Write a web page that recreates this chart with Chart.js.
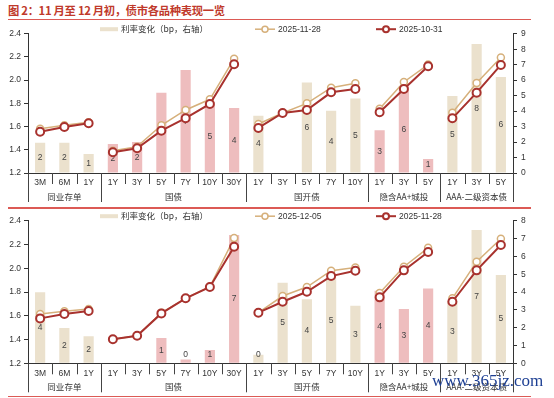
<!DOCTYPE html>
<html>
<head>
<meta charset="utf-8">
<script src="https://cdn.jsdelivr.net/npm/chart.js@4.4.1/dist/chart.umd.min.js"></script>
<style>
body{margin:0;width:554px;height:398px;background:#fff;position:relative;overflow:hidden;font-family:'Noto Sans CJK SC',sans-serif}
#title{position:absolute;left:8px;top:2px;font-size:11.3px;letter-spacing:-0.3px;font-weight:bold;color:#c0392b;white-space:nowrap}
.rule{position:absolute;left:8px;width:523px;height:1.5px;background:#dc5a55}
canvas{position:absolute;left:0}
#wm{position:absolute;left:432px;top:370px;font-family:'Liberation Serif',serif;font-size:17px;line-height:22px;color:#1d3f93;white-space:nowrap}
</style>
</head>
<body>
<div id="title">图 2：11 月至 12 月初，债市各品种表现一览</div>
<div class="rule" style="top:18.5px"></div>
<canvas id="chart--top" width="554" height="186" style="top:20px"></canvas>
<div class="rule" style="top:207px"></div>
<canvas id="chart--bottom" width="554" height="190" style="top:208px"></canvas>
<div class="rule" style="top:395.5px"></div>
<div id="wm">www.365jz.com</div>
<script>
// categories
const categories = ['3M', '6M', '1Y', '1Y', '3Y', '5Y', '7Y', '10Y', '30Y', '1Y', '3Y', '5Y', '7Y', '10Y', '1Y', '3Y', '5Y', '1Y', '3Y', '5Y'];
const groupNames = ['同业存单', '国债', '国开债', '隐含AA+城投', 'AAA-二级资本债'];
const groupSizes = [3, 6, 5, 3, 3];

// top chart: 11-28 vs 10-31
const labelTopNew = '2025-11-28';
const labelTopOld = '2025-10-31';
const bpTop = [1.95, 1.95, 1.22, 1.87, 2.0, 5.18, 6.65, 4.6, 4.2, 3.7, null, 5.85, 4.02, 4.82, 2.77, 5.6, 0.9, 4.97, 8.34, 6.2];
const rateTopNew = [1.582, 1.611, 1.637, 1.392, 1.427, 1.611, 1.743, 1.835, 2.185, 1.622, 1.717, 1.80, 1.935, 1.973, 1.754, 1.984, 2.134, 1.719, 1.976, 2.195];
const rateTopOld = [1.556, 1.597, 1.628, 1.378, 1.413, 1.565, 1.672, 1.795, 2.137, 1.588, 1.717, 1.743, 1.895, 1.924, 1.723, 1.924, 2.12, 1.671, 1.892, 2.131];

// bottom chart: 12-05 vs 11-28
const labelBottomNew = '2025-12-05';
const labelBottomOld = '2025-11-28';
const bpBottom = [3.98, 1.98, 1.52, null, null, 1.42, 0.22, 0.75, 7.2, 0.48, 4.52, 3.59, 4.77, 3.23, 4.07, 3.05, 4.19, 3.49, 7.48, 4.95];
const rateBottomNew = [1.615, 1.637, 1.657, 1.402, 1.432, 1.625, 1.747, 1.844, 2.254, 1.626, 1.766, 1.842, 1.979, 2.007, 1.791, 2.013, 2.172, 1.747, 2.055, 2.248];
const rateBottomOld = [1.578, 1.615, 1.64, 1.402, 1.432, 1.62, 1.747, 1.842, 2.181, 1.626, 1.718, 1.802, 1.934, 1.979, 1.755, 1.982, 2.136, 1.718, 1.982, 2.195];

// axes
const rateMin = 1.2, rateMax = 2.4, rateStep = 0.2;
const bpMaxTop = 9, bpMaxBottom = 8;
const barLabel = '利率变化（bp，右轴）';

// colours
const beige = '#ebe1cd', pink = '#eebdbe';
const lightCol = '#d6b07b', darkCol = '#a8322e';
const groupBarColors = [beige, pink, beige, pink, beige];

const groupStarts = [];
const barColors = [];
let acc = 0;
groupSizes.forEach((n, g) => {
    groupStarts.push(acc);
    for (let k = 0; k < n; k++) barColors.push(groupBarColors[g]);
    acc += n;
});

Chart.defaults.font.family = "'Liberation Sans', 'Noto Sans CJK SC', sans-serif";
Chart.defaults.font.size = 8.5;
Chart.defaults.color = '#333';

const breakSeg = c => groupStarts.includes(c.p1DataIndex) ? 'rgba(0,0,0,0)' : undefined;

function makeChart(id, topPad, xHeight, bp, rNew, rOld, labNew, labOld, bpMax) {
    const groupsPlugin = {
        id: 'groups',
        afterDatasetDraw(chart, args) {
            if (args.index !== 0) return;
            const ctx = chart.ctx;
            ctx.save();
            ctx.fillStyle = '#444';
            ctx.font = "8.5px 'Liberation Sans', sans-serif";
            ctx.textAlign = 'center';
            ctx.textBaseline = 'middle';
            chart.getDatasetMeta(0).data.forEach((el, i) => {
                const v = bp[i];
                if (v === null) return;
                const y = Math.min((el.y + el.base) / 2, el.base - 8);
                ctx.fillText(String(Math.round(v)), el.x, y);
            });
            ctx.restore();
        },
        afterDraw(chart) {
            const ctx = chart.ctx, x = chart.scales.x, area = chart.chartArea;
            const half = (x.getPixelForValue(1) - x.getPixelForValue(0)) / 2;
            ctx.save();
            ctx.strokeStyle = '#444';
            ctx.lineWidth = 1;
            const ends = groupStarts.concat([categories.length]);
            for (let i = 0; i <= categories.length; i++) {
                const px = Math.round(x.getPixelForValue(i) - half) + 0.5;
                const len = ends.includes(i) ? 29 : 11;
                ctx.beginPath();
                ctx.moveTo(px, area.bottom);
                ctx.lineTo(px, area.bottom + len);
                ctx.stroke();
            }
            ctx.fillStyle = '#333';
            ctx.font = "8.5px 'Noto Sans CJK SC', sans-serif";
            ctx.textAlign = 'center';
            ctx.textBaseline = 'middle';
            groupNames.forEach((name, g) => {
                const a = groupStarts[g], b = a + groupSizes[g] - 1;
                const cx = (x.getPixelForValue(a) + x.getPixelForValue(b)) / 2;
                ctx.fillText(name, cx, area.bottom + 23.5);
            });

            // legend
            const ly = area.top - 4.5;
            ctx.fillStyle = beige;
            ctx.fillRect(100, ly - 2, 18, 4);
            ctx.fillStyle = '#333';
            ctx.textAlign = 'left';
            ctx.fillText(barLabel, 121, ly);
            const items = [[255, labNew, lightCol, 1.5, 3], [376, labOld, darkCol, 2, 3]];
            items.forEach(([lx, txt, col, w, r]) => {
                ctx.strokeStyle = col;
                ctx.lineWidth = w;
                ctx.beginPath();
                ctx.moveTo(lx, ly);
                ctx.lineTo(lx + 20, ly);
                ctx.stroke();
                ctx.fillStyle = '#fff';
                ctx.beginPath();
                ctx.arc(lx + 10, ly, r, 0, Math.PI * 2);
                ctx.fill();
                ctx.stroke();
                ctx.fillStyle = '#333';
                ctx.font = "8.5px 'Liberation Sans', sans-serif";
                ctx.fillText(txt, lx + 23, ly);
            });
            ctx.restore();
        }
    };

    return new Chart(document.getElementById(id), {
        type: 'bar',
        data: {
            labels: categories,
            datasets: [{
                type: 'bar',
                label: barLabel,
                data: bp,
                yAxisID: 'y1',
                backgroundColor: barColors,
                barPercentage: 0.42,
                categoryPercentage: 1,
                order: 3
            }, {
                type: 'line',
                label: labNew,
                data: rNew,
                yAxisID: 'y',
                borderColor: lightCol,
                borderWidth: 1.5,
                pointRadius: 3.5,
                pointBorderWidth: 1.5,
                pointBackgroundColor: '#fff',
                pointBorderColor: lightCol,
                tension: 0,
                segment: { borderColor: breakSeg },
                order: 2
            }, {
                type: 'line',
                label: labOld,
                data: rOld,
                yAxisID: 'y',
                borderColor: darkCol,
                borderWidth: 2,
                pointRadius: 4,
                pointBorderWidth: 2,
                pointBackgroundColor: '#fff',
                pointBorderColor: darkCol,
                tension: 0,
                segment: { borderColor: breakSeg },
                order: 1
            }]
        },
        options: {
            responsive: false,
            animation: false,
            layout: { padding: { top: topPad, left: 0, right: 0, bottom: 0 } },
            plugins: { legend: { display: false }, tooltip: { enabled: false } },
            scales: {
                x: {
                    offset: true,
                    grid: { display: false, drawTicks: false },
                    border: { display: true, color: '#333' },
                    ticks: { padding: 5, maxRotation: 0, autoSkip: false },
                    afterFit: s => { s.height = xHeight; }
                },
                y: {
                    position: 'left',
                    min: rateMin,
                    max: rateMax,
                    ticks: { stepSize: rateStep, padding: 3, callback: v => v.toFixed(1) },
                    grid: { drawOnChartArea: false, tickLength: 4, color: '#333' },
                    border: { color: '#333' },
                    afterFit: s => { s.width = 28; }
                },
                y1: {
                    position: 'right',
                    min: 0,
                    max: bpMax,
                    ticks: { stepSize: 1, padding: 4 },
                    grid: { drawOnChartArea: false, tickLength: 4, color: '#333' },
                    border: { color: '#333' },
                    afterFit: s => { s.width = 41; }
                }
            }
        },
        plugins: [groupsPlugin]
    });
}

var chartTop = makeChart('chart--top', 13.7, 33, bpTop, rateTopNew, rateTopOld, labelTopNew, labelTopOld, bpMaxTop);
var chartBottom = makeChart('chart--bottom', 12.7, 34.7, bpBottom, rateBottomNew, rateBottomOld, labelBottomNew, labelBottomOld, bpMaxBottom);
</script>
</body>
</html>
